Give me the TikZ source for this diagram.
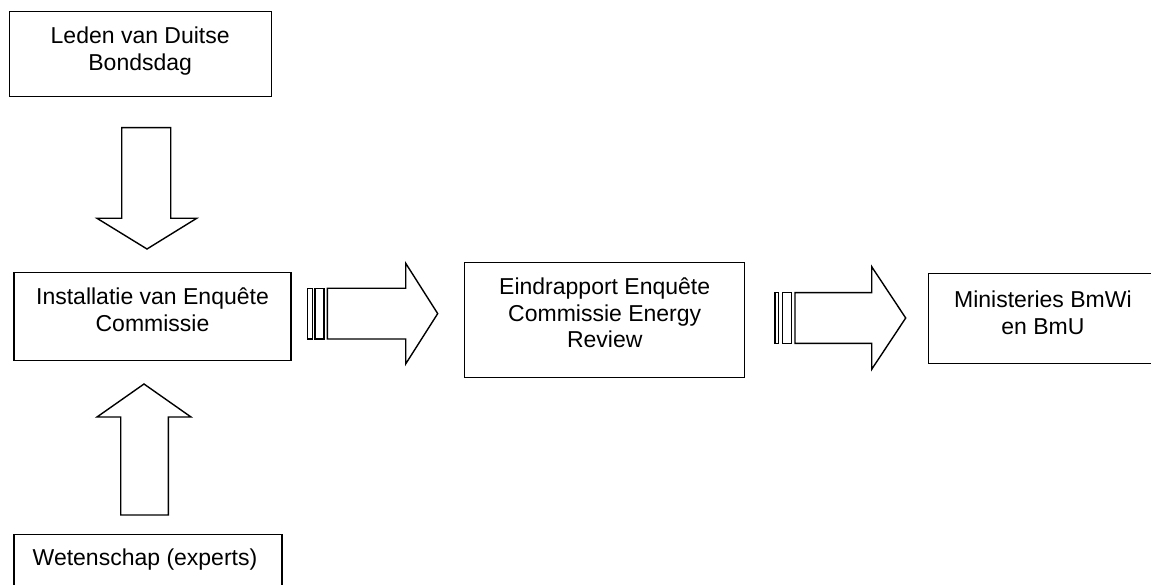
\documentclass[tikz,border=0pt]{standalone}
\usepackage{fontspec}
\setmainfont{Liberation Sans}
\begin{document}
\begin{tikzpicture}[x=1pt,y=-1pt,
  box/.style={draw, line width=1.4pt, rectangle, inner sep=0pt, anchor=north west},
  txt/.style={font=\fontsize{23}{26.5}\selectfont, align=center, inner sep=0pt, anchor=north},
  blockarrow/.style={draw, line width=1.4pt, line join=miter, fill=white}]
\useasboundingbox (0,0) rectangle (1151,585);
\clip (0,0) rectangle (1151,585);
% boxes
\node[box, minimum width=262pt, minimum height=85pt] (leden) at (9,11) {};
\node[txt] (ledent) at ([yshift=-16pt,xshift=-0.5pt]leden.north) {Leden van Duitse\\Bondsdag};
\node[box, minimum width=277pt, minimum height=88pt] (inst) at (13.3,272) {};
\node[txt] (instt) at ([yshift=-16pt]inst.north) {Installatie van Enquête\\Commissie};
\node[box, minimum width=268pt, minimum height=80pt] (wet) at (13.3,533.7) {};
\node[txt] (wett) at ([yshift=-15pt,xshift=-3pt]wet.north) {Wetenschap (experts)};
\node[box, minimum width=280pt, minimum height=115pt] (eind) at (464,261.7) {};
\node[txt] (eindt) at ([yshift=-16pt]eind.north) {Eindrapport Enquête\\Commissie Energy\\Review};
\node[box, minimum width=229pt, minimum height=90.3pt] (min) at (927.7,272.7) {};
\node[txt] (mint) at ([yshift=-18pt]min.north) {Ministeries BmWi\\en BmU};
% down block arrow
\draw[blockarrow] (121.7,127.7) -- (170.7,127.7) -- (170.7,218.3) -- (196.7,218.3)
  -- (147,249) -- (97,218.3) -- (121.7,218.3) -- cycle;
% up block arrow
\draw[blockarrow] (120.7,515) -- (168.3,515) -- (168.3,417) -- (191,417)
  -- (144,384) -- (97,417) -- (120.7,417) -- cycle;
% right striped arrow 1
\draw[blockarrow] (307.3,288.3) rectangle (312.3,339);
\draw[blockarrow] (315,288.3) rectangle (324,339);
\draw[blockarrow] (327.3,288.3) -- (405.7,288.3) -- (405.7,263.3) -- (437.7,313.6)
  -- (405.7,363.9) -- (405.7,339) -- (327.3,339) -- cycle;
% right striped arrow 2
\draw[blockarrow] (775,292.7) rectangle (778.3,343.3);
\draw[blockarrow] (782.7,292.7) rectangle (791.7,343.3);
\draw[blockarrow] (795,292.7) -- (871.7,292.7) -- (871.7,266.7) -- (905.7,318)
  -- (871.7,369.3) -- (871.7,343.3) -- (795,343.3) -- cycle;
\end{tikzpicture}
\end{document}
